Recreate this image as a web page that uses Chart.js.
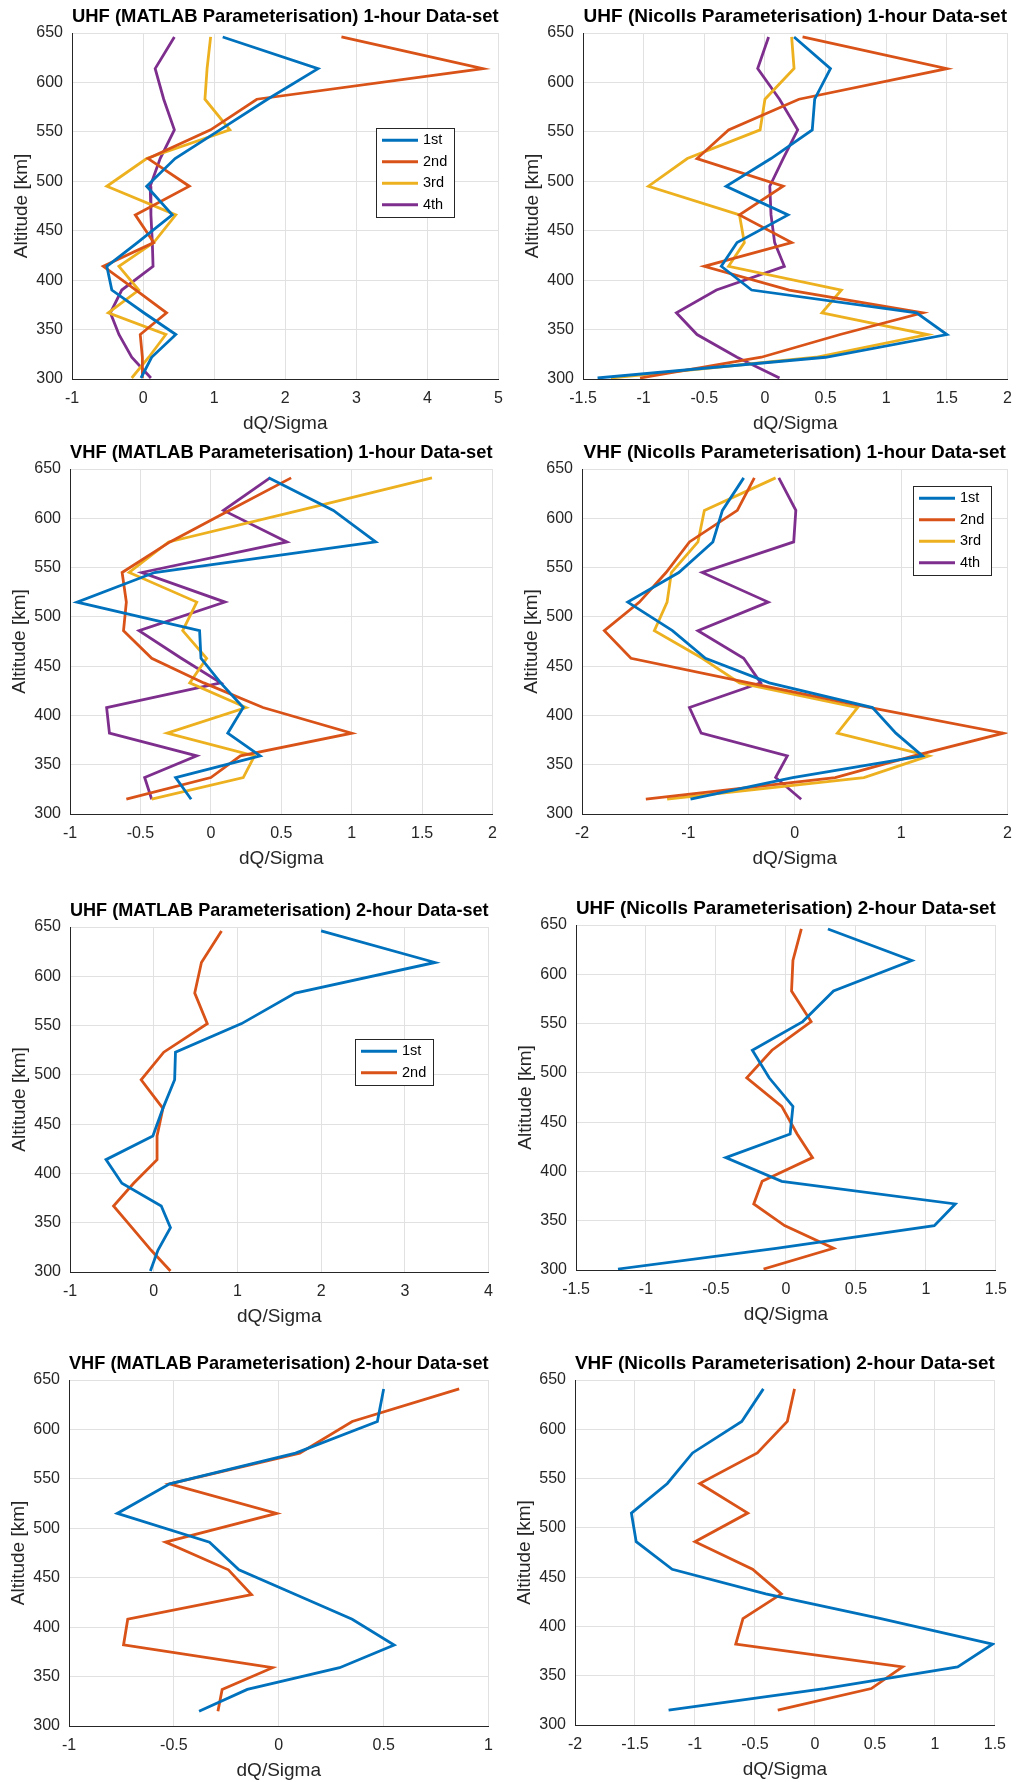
<!DOCTYPE html>
<html>
<head>
<meta charset="utf-8">
<title>dQ/Sigma altitude profiles</title>
<script src="https://cdn.jsdelivr.net/npm/chart.js@4.4.1/dist/chart.umd.min.js"></script>
<style>
  html, body { margin: 0; background: #fff; }
  body { width: 1018px; height: 1782px; position: relative; overflow: hidden; }
  .panel { position: absolute; }
  .panel canvas { display: block; }
</style>
</head>
<body>
<script>
/* Range-gate altitudes, km */
const UHF_ALT = [646, 614, 583, 552, 523, 495, 466, 438, 414, 390, 367, 345, 322, 301];
const VHF_ALT = [641, 608, 576, 545, 515, 486, 458, 433, 408, 382, 359, 337, 315];

const RUNS = ['1st', '2nd', '3rd', '4th'];
const COLORS = ['#0072BD', '#D95319', '#EDB120', '#7E2F8E'];

/* dQ/Sigma per gate — UHF, MATLAB fit, 1-hour */
const uhfMat1h1 = [1.12, 2.46, 1.75, 1.08, 0.45, 0.05, 0.41, -0.08, -0.51, -0.44, 0.01, 0.46, 0.12, -0.03];
const uhfMat1h2 = [2.79, 4.78, 1.6, 0.95, 0.07, 0.65, -0.11, 0.15, -0.56, -0.1, 0.33, -0.04, -0.01, -0.01];
const uhfMat1h3 = [0.95, 0.9, 0.87, 1.22, 0.05, -0.51, 0.46, 0.15, -0.34, -0.06, -0.49, 0.32, 0.08, -0.16];
const uhfMat1h4 = [0.44, 0.17, 0.29, 0.44, 0.24, 0.1, 0.11, 0.13, 0.14, -0.3, -0.46, -0.34, -0.16, 0.11];

/* UHF, Nicolls fit, 1-hour */
const uhfNic1h1 = [0.24, 0.54, 0.41, 0.39, 0.05, -0.32, 0.19, -0.23, -0.36, -0.11, 1.25, 1.5, 0.5, -1.38];
const uhfNic1h2 = [0.31, 1.5, 0.28, -0.3, -0.56, 0.15, -0.21, 0.22, -0.5, 0.2, 1.3, 0.62, -0.03, -1.03];
const uhfNic1h3 = [0.22, 0.24, 0.0, -0.04, -0.64, -0.96, -0.21, -0.17, -0.3, 0.63, 0.47, 1.34, 0.42, -1.27];
const uhfNic1h4 = [0.03, -0.06, 0.12, 0.27, 0.15, 0.04, 0.05, 0.08, 0.16, -0.4, -0.73, -0.56, -0.23, 0.12];

/* VHF, MATLAB fit, 1-hour */
const vhfMat1h1 = [0.41, 0.87, 1.17, -0.4, -0.95, -0.08, -0.07, 0.07, 0.23, 0.12, 0.35, -0.25, -0.14];
const vhfMat1h2 = [0.57, 0.13, -0.29, -0.63, -0.6, -0.62, -0.42, -0.05, 0.37, 1.0, 0.21, 0.0, -0.6];
const vhfMat1h3 = [1.57, 0.63, -0.3, -0.58, -0.1, -0.2, -0.03, -0.15, 0.25, -0.31, 0.31, 0.23, -0.42];
const vhfMat1h4 = [0.42, 0.09, 0.54, -0.49, 0.1, -0.51, -0.21, 0.07, -0.74, -0.72, -0.1, -0.47, -0.42];

/* VHF, Nicolls fit, 1-hour */
const vhfNic1h1 = [-0.48, -0.68, -0.77, -1.09, -1.57, -1.15, -0.84, -0.24, 0.73, 0.95, 1.2, -0.02, -0.98];
const vhfNic1h2 = [-0.38, -0.54, -0.99, -1.21, -1.46, -1.79, -1.54, -0.43, 0.71, 1.96, 1.12, 0.38, -1.4];
const vhfNic1h3 = [-0.18, -0.85, -0.91, -1.16, -1.2, -1.32, -0.87, -0.52, 0.59, 0.4, 1.26, 0.65, -1.2];
const vhfNic1h4 = [-0.15, 0.01, -0.01, -0.87, -0.25, -0.91, -0.48, -0.32, -0.99, -0.88, -0.07, -0.18, 0.06];

/* UHF, 2-hour */
const uhfMat2h1 = [2.0, 3.36, 1.69, 1.05, 0.26, 0.25, 0.11, -0.01, -0.57, -0.38, 0.09, 0.2, 0.05, -0.04];
const uhfMat2h2 = [0.81, 0.57, 0.49, 0.64, 0.12, -0.15, 0.11, 0.04, 0.04, -0.24, -0.48, -0.26, -0.03, 0.2];
const uhfNic2h1 = [0.3, 0.9, 0.34, 0.12, -0.24, -0.12, 0.05, 0.03, -0.43, -0.03, 1.21, 1.06, -0.07, -1.2];
const uhfNic2h2 = [0.11, 0.05, 0.04, 0.18, -0.1, -0.28, -0.03, 0.08, 0.19, -0.17, -0.23, -0.01, 0.34, -0.16];

/* VHF, 2-hour */
const vhfMat2h1 = [0.5, 0.47, 0.08, -0.52, -0.77, -0.33, -0.19, 0.08, 0.35, 0.55, 0.29, -0.15, -0.38];
const vhfMat2h2 = [0.86, 0.35, 0.1, -0.52, -0.01, -0.54, -0.24, -0.13, -0.72, -0.74, -0.03, -0.27, -0.29];
const vhfNic2h1 = [-0.43, -0.61, -1.02, -1.23, -1.53, -1.49, -1.19, -0.41, 0.55, 1.48, 1.19, 0.08, -1.22];
const vhfNic2h2 = [-0.17, -0.23, -0.48, -0.96, -0.56, -1.0, -0.52, -0.28, -0.6, -0.66, 0.73, 0.47, -0.31];

/* area = plot rectangle [left, top, right, bottom] in page px; legend offset from plot corner */
const PANELS = [
  { title: 'UHF (MATLAB Parameterisation) 1-hour Data-set', alt: UHF_ALT,
    series: [uhfMat1h1, uhfMat1h2, uhfMat1h3, uhfMat1h4], x: [-1, 5, 1],
    area: [72, 33, 499, 379], legend: { x: 304, y: 95 } },
  { title: 'UHF (Nicolls Parameterisation) 1-hour Data-set', alt: UHF_ALT,
    series: [uhfNic1h1, uhfNic1h2, uhfNic1h3, uhfNic1h4], x: [-1.5, 2, 0.5],
    area: [583, 33, 1008, 379] },
  { title: 'VHF (MATLAB Parameterisation) 1-hour Data-set', alt: VHF_ALT,
    series: [vhfMat1h1, vhfMat1h2, vhfMat1h3, vhfMat1h4], x: [-1, 2, 0.5],
    area: [70, 469, 493, 814] },
  { title: 'VHF (Nicolls Parameterisation) 1-hour Data-set', alt: VHF_ALT,
    series: [vhfNic1h1, vhfNic1h2, vhfNic1h3, vhfNic1h4], x: [-2, 2, 1],
    area: [582, 469, 1008, 814], legend: { x: 331, y: 17 } },
  { title: 'UHF (MATLAB Parameterisation) 2-hour Data-set', alt: UHF_ALT,
    series: [uhfMat2h1, uhfMat2h2], x: [-1, 4, 1],
    area: [70, 927, 489, 1272], legend: { x: 285, y: 112 } },
  { title: 'UHF (Nicolls Parameterisation) 2-hour Data-set', alt: UHF_ALT,
    series: [uhfNic2h1, uhfNic2h2], x: [-1.5, 1.5, 0.5],
    area: [576, 925, 1003, 1270] },
  { title: 'VHF (MATLAB Parameterisation) 2-hour Data-set', alt: VHF_ALT,
    series: [vhfMat2h1, vhfMat2h2], x: [-1, 1, 0.5],
    area: [69, 1380, 489, 1726] },
  { title: 'VHF (Nicolls Parameterisation) 2-hour Data-set', alt: VHF_ALT,
    series: [vhfNic2h1, vhfNic2h2], x: [-2, 1.5, 0.5],
    area: [575, 1380, 1002, 1725] }
];

const FONT = '"Liberation Sans", Arial, Helvetica, sans-serif';
const INK = '#262626';
const GRID = '#e1e1e1';
const YW = 72, TH = 30, XH = 60, RP = 14;   // y-axis width, title band, x-axis band, right pad

Chart.defaults.font.family = FONT;
Chart.defaults.color = INK;

/* boxed legend drawn inside the plot, MATLAB style */
const boxLegend = {
  id: 'boxLegend',
  afterDatasetsDraw(chart, args, opts) {
    if (!opts || opts.x == null) return;
    const { ctx, chartArea } = chart;
    const sets = chart.data.datasets;
    const rowH = 21.5, w = 78, h = sets.length * rowH + 3;
    const left = Math.round(chartArea.left + opts.x), top = Math.round(chartArea.top + opts.y);
    ctx.save();
    ctx.fillStyle = '#fff';
    ctx.fillRect(left, top, w, h);
    ctx.strokeStyle = INK;
    ctx.lineWidth = 1;
    ctx.strokeRect(left + 0.5, top + 0.5, w, h);
    ctx.font = '14.5px ' + FONT;
    ctx.textBaseline = 'middle';
    sets.forEach((d, i) => {
      const cy = top + 1.5 + rowH * (i + 0.5);
      ctx.strokeStyle = d.borderColor;
      ctx.lineWidth = 3;
      ctx.beginPath();
      ctx.moveTo(left + 6, cy);
      ctx.lineTo(left + 42, cy);
      ctx.stroke();
      ctx.fillStyle = '#000';
      ctx.fillText(d.label, left + 47, cy);
    });
    ctx.restore();
  }
};

function profile(p) {
  const [L, T, R, B] = p.area;
  const w = YW + (R - L) + RP, h = TH + (B - T) + XH;
  const box = document.createElement('div');
  box.className = 'panel';
  box.style.left = (L - YW) + 'px';
  box.style.top = (T - TH) + 'px';
  const cv = document.createElement('canvas');
  cv.width = w; cv.height = h;
  box.appendChild(cv);
  document.body.appendChild(box);

  const datasets = p.series.map((vals, i) => ({
    label: RUNS[i],
    data: p.alt.map((a, j) => ({ x: vals[j], y: a })),
    borderColor: COLORS[i], backgroundColor: COLORS[i],
    borderWidth: 2.8, pointRadius: 0, showLine: true, tension: 0, fill: false
  }));

  const [xMin, xMax, xStep] = p.x;
  return new Chart(cv, {
    type: 'scatter',
    data: { datasets },
    plugins: [boxLegend],
    options: {
      responsive: false, animation: false, devicePixelRatio: 1, events: [],
      layout: { padding: { left: 0, top: 0, right: RP, bottom: 0 } },
      scales: {
        x: {
          type: 'linear', min: xMin, max: xMax,
          ticks: { stepSize: xStep, padding: 10, font: { size: 16 }, color: INK, callback: v => String(v) },
          grid: { color: GRID, drawTicks: false },
          border: { color: INK, width: 1 },
          title: { display: true, text: 'dQ/Sigma', color: INK, font: { size: 19, lineHeight: '22px' }, padding: { top: 0, bottom: 4 } },
          afterFit: s => { s.height = XH; }
        },
        y: {
          type: 'linear', min: 300, max: 650,
          ticks: { stepSize: 50, padding: 9, font: { size: 16 }, color: INK },
          grid: { color: GRID, drawTicks: false },
          border: { color: INK, width: 1 },
          title: { display: true, text: 'Altitude [km]', color: INK, font: { size: 19, lineHeight: '22px' }, padding: { top: 11, bottom: 0 } },
          afterFit: s => { s.width = YW; }
        }
      },
      plugins: {
        legend: { display: false },
        tooltip: { enabled: false },
        title: {
          display: true, text: p.title, fullSize: false, color: '#000',
          font: { size: 19, weight: 'bold', lineHeight: '22px' }, padding: { top: 3, bottom: 5 }
        },
        boxLegend: p.legend || {}
      }
    }
  });
}

PANELS.forEach(profile);
</script>
</body>
</html>
